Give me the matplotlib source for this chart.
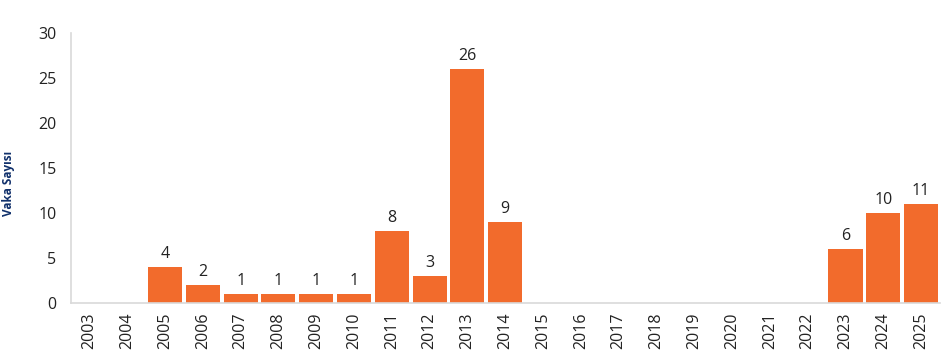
import matplotlib
matplotlib.use("Agg")
import matplotlib.pyplot as plt

years = [str(y) for y in range(2003, 2026)]
values = [0, 0, 4, 2, 1, 1, 1, 1, 8, 3, 26, 9, 0, 0, 0, 0, 0, 0, 0, 0, 6, 10, 11]
yticks = [0, 5, 10, 15, 20, 25, 30]

plt.rcParams['font.family'] = ['Open Sans', 'DejaVu Sans']

fig = plt.figure(figsize=(9.43, 3.59), dpi=100)
ax = fig.add_axes([70.5/943, 1 - 303/359, (940 - 70.5)/943, (303 - 33)/359])

x = list(range(len(years)))
bars = ax.bar(x, values, width=0.9, color='#F26B2C', edgecolor='none')
for xi, v in zip(x, values):
    if v > 0:
        ax.text(xi, v + 0.6, str(v), ha='center', va='bottom', fontsize=11.5, color='#222222')

ax.set_xlim(-0.5, len(years) - 0.5)
ax.set_ylim(0, 30)
ax.set_yticks(yticks)
ax.set_yticklabels([str(t) for t in yticks], fontsize=11.5, color='#222222')
ax.set_xticks(x)
ax.set_xticklabels(years, rotation=90, fontsize=11.5, color='#222222')
ax.tick_params(length=0, pad=10)
ax.tick_params(axis='x', pad=7)

for s in ['top', 'right']:
    ax.spines[s].set_visible(False)
ax.spines['left'].set_color('#D9D9D9')
ax.spines['bottom'].set_color('#D9D9D9')
ax.spines['left'].set_linewidth(1.2)
ax.spines['bottom'].set_linewidth(1.2)

fig.text(9/943, 1 - 183/359, 'Vaka Sayısı', rotation=90, ha='center', va='center',
         fontsize=8.5, fontweight='bold', color='#10306B')

fig.savefig('out.png', dpi=100)
